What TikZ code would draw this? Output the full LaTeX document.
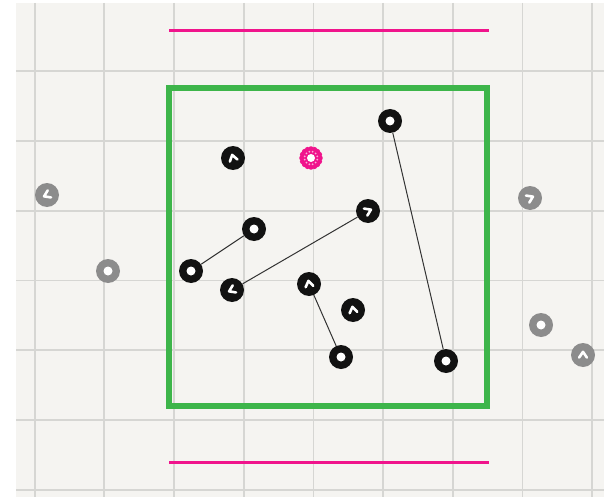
\documentclass[tikz,border=0pt]{standalone}
\usetikzlibrary{positioning}
\definecolor{paper}{HTML}{F5F4F1}
\definecolor{gridline}{HTML}{D6D6D3}
\definecolor{fence}{HTML}{3DB54A}
\definecolor{wall}{HTML}{F0148C}
\definecolor{ghost}{HTML}{8C8C8C}

\tikzset{
  agent/.style={circle, fill=black!93, minimum size=24pt, inner sep=0pt},
  still/.style={agent, path picture={\fill[white] (path picture bounding box.center) circle (4.5);}},
  faded/.style={fill=ghost},
  chevron/.style={white, line width=2.6pt, line cap=round, line join=round},
  link/.style={draw=black!80, line width=1pt},
}
% white heading mark on an agent
\newcommand{\headmark}[2]{%
  \draw[chevron, shift={(#1.center)}, rotate=#2] (-3.9,2.6) -- (0,-3.2) -- (3.9,2.6);}

\begin{document}
\begin{tikzpicture}[x=1pt, y=-1pt]
    \useasboundingbox (0,0) rectangle (604,497);
    \fill[white] (0,0) rectangle (604,497);
    \fill[paper] (16,3) rectangle (604,497);

    % grid
    \foreach \gx in {0,...,8}
        \draw[gridline, line width=1.8pt] ({34.6+69.7*\gx},3) -- ({34.6+69.7*\gx},497);
    \foreach \gy in {0,...,6}
        \draw[gridline, line width=1.8pt] (16,{71+69.8*\gy}) -- (604,{71+69.8*\gy});

    % walls and fence
    \draw[wall, line width=3pt] (169,30.5) -- (489,30.5);
    \draw[wall, line width=3pt] (169,462.5) -- (489,462.5);
    \draw[fence, line width=5.5pt] (169,88) rectangle (487,406);

    % agents inside
    \node[still] (a1) at (390,121) {};
    \node[agent] (a2) at (233,158) {};
    \node[agent] (a3) at (368,211) {};
    \node[still] (a4) at (254,229) {};
    \node[still] (a5) at (191,271) {};
    \node[agent] (a6) at (232,290) {};
    \node[agent] (a7) at (309,284) {};
    \node[agent] (a8) at (353,310) {};
    \node[still] (a9) at (341,357) {};
    \node[still] (a10) at (446,361) {};

    % agents outside
    \node[agent, faded] (g1) at (47,195) {};
    \node[still, faded] (g2) at (108,271) {};
    \node[agent, faded] (g3) at (530,198) {};
    \node[still, faded] (g4) at (541,325) {};
    \node[agent, faded] (g5) at (583,355) {};

    \headmark{a2}{15}
    \headmark{a3}{-65}
    \headmark{a6}{115}
    \headmark{a7}{10}
    \headmark{a8}{10}
    \headmark{g1}{115}
    \headmark{g3}{-65}
    \headmark{g5}{0}

    % target
    \node[circle, minimum size=24pt, inner sep=0pt] (goal) at (311,158) {};
    \fill[wall] (goal.center) circle (9);
    \foreach \k in {0,...,15}
        \fill[wall] ([shift={(\k*360/16:9pt)}]goal.center) circle (2.8);
    \foreach \k in {0,...,11}
        \fill[wall!35] ([shift={(\k*30+15:6.5pt)}]goal.center) circle (1);
    \fill[white] (goal.center) circle (4);

    % links
    \draw[link] (a1) -- (a10);
    \draw[link] (a4) -- (a5);
    \draw[link] (a3) -- (a6);
    \draw[link] (a7) -- (a9);
\end{tikzpicture}
\end{document}
